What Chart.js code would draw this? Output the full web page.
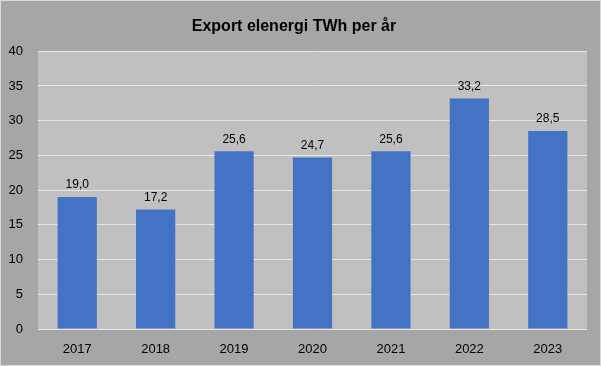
<!DOCTYPE html>
<html><head><meta charset="utf-8">
<script src="https://cdn.jsdelivr.net/npm/chart.js@4"></script>
<style>
html,body{margin:0;padding:0;background:#a6a6a6;}
#wrap{width:599px;height:364px;border:1px solid #d9d9d9;background:#a6a6a6;position:relative;}
canvas{display:block;}
</style></head><body>
<div id="wrap"><canvas id="c" width="599" height="364"></canvas></div>
<script>
const categories = ['2017','2018','2019','2020','2021','2022','2023'];
const exportTWh = [19.0, 17.2, 25.6, 24.7, 25.6, 33.2, 28.5];
const yTicks = [0,5,10,15,20,25,30,35,40];
const chartTitle = 'Export elenergi TWh per år';

const plotBg = {
  id:'plotBg',
  beforeDraw(chart){
    const {ctx, chartArea:a} = chart;
    ctx.save(); ctx.fillStyle='#c0c0c0';
    ctx.fillRect(a.left, a.top, a.right-a.left, a.bottom-a.top);
    ctx.restore();
  }
};
const labels = {
  id:'labels',
  afterDatasetsDraw(chart){
    const {ctx} = chart;
    const meta = chart.getDatasetMeta(0);
    ctx.save();
    ctx.font = '12px "Liberation Sans", Arial, sans-serif';
    ctx.fillStyle = '#000'; ctx.textAlign='center'; ctx.textBaseline='bottom';
    meta.data.forEach((bar,i)=>{
      ctx.fillText(exportTWh[i].toFixed(1).replace('.',','), bar.x, bar.y-6);
    });
    ctx.restore();
  }
};
new Chart(document.getElementById('c'), {
  type:'bar',
  data:{labels:categories, datasets:[{data:exportTWh, backgroundColor:'#4472c4', barPercentage:0.5, categoryPercentage:1}]},
  options:{
    responsive:false, animation:false, devicePixelRatio:1,
    layout:{padding:{left:0,right:13,top:0,bottom:0}},
    plugins:{
      legend:{display:false}, tooltip:{enabled:false},
      title:{display:true, text:chartTitle, color:'#000',
        font:{family:'"Liberation Sans", Arial, sans-serif', size:16, weight:'bold'},
        padding:{top:16, bottom:15}}
    },
    scales:{
      x:{grid:{display:false}, border:{display:false},
        ticks:{color:'#000', padding:5, font:{family:'"Liberation Sans", Arial, sans-serif', size:13}},
        afterFit(s){ s.height = 36; }},
      y:{min:0, max:40, grid:{color:'#e6e6e6', drawTicks:false, lineWidth:1}, border:{display:false},
        afterBuildTicks(s){ s.ticks = yTicks.map(v=>({value:v})); },
        ticks:{color:'#000', padding:15, font:{family:'"Liberation Sans", Arial, sans-serif', size:13}},
        afterFit(s){ s.width = 37; }}
    }
  },
  plugins:[plotBg, labels]
});
</script></body></html>
